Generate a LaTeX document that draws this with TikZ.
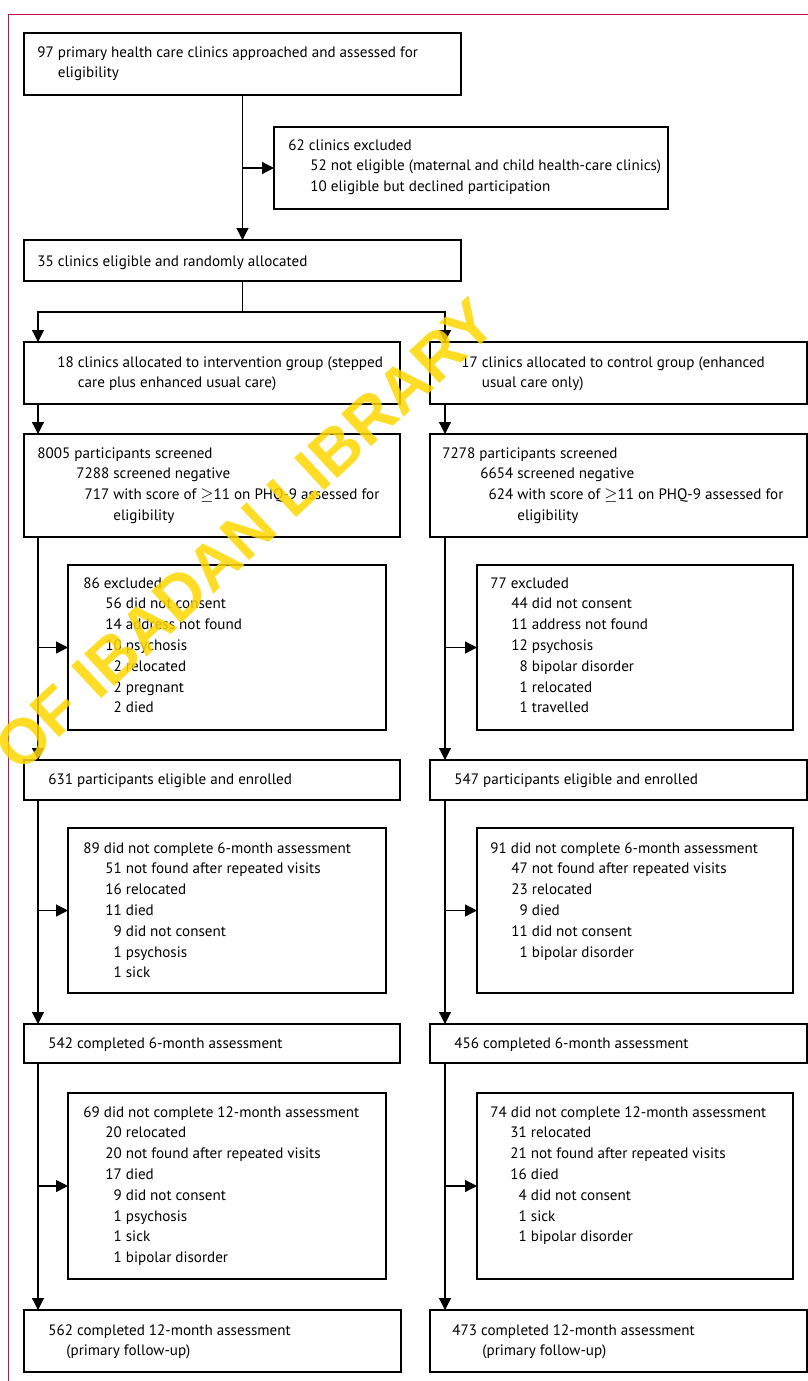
\documentclass[tikz,border=0pt]{standalone}
\usepackage{fontspec}
\setmainfont{PT Sans}
\newfontfamily\wmfont{Liberation Sans}
\usetikzlibrary{arrows, arrows.meta}
\usetikzlibrary{calc}

\definecolor{framered}{RGB}{200,16,70}
\definecolor{wmyellow}{RGB}{255,214,0}

\tikzset{
  box/.style={draw, line width=0.75pt, rectangle, inner sep=0pt, outer sep=0pt, anchor=north west},
  wh/.style 2 args={minimum width=#1*0.5pt, minimum height=#2*0.5pt},
  txt/.style={anchor=base west, inner sep=0pt, font=\fontsize{7.55}{10.4}\selectfont},
  arr/.style={-{Triangle[length=6pt, width=6pt]}, line width=0.6pt},
  link/.style={line width=0.6pt},
}

\begin{document}
\begin{tikzpicture}[x=0.5pt, y=-0.5pt]
      \useasboundingbox (0,0) rectangle (808,1381);
      \draw[framered, line width=0.6pt] (8.5,1381) -- (8.5,14.3) -- (808,14.3);

      % clinics
      \node[box, wh={437}{62}] (approach) at (24,33) {};
      \node[txt] (approachtxt) at ([shift={(13,24)}]approach.north west) {\begin{tabular}[t]{@{}r@{\ }l@{}}
        97 & primary health care clinics approached and assessed for\\
           & eligibility\end{tabular}};

      \node[box, wh={394}{82}] (clinexcl) at (274,127) {};
      \node[txt] (clinexcltxt) at ([shift={(14,23)}]clinexcl.north west) {\begin{tabular}[t]{@{}p{11pt}@{}r@{\ }l@{}}
        \multicolumn{3}{@{}l@{}}{62 clinics excluded}\\
        & 52 & not eligible (maternal and child health-care clinics)\\
        & 10 & eligible but declined participation\end{tabular}};

      \node[box, wh={437}{41}] (random) at (24,240) {};
      \node[txt] (randomtxt) at ([shift={(13,26)}]random.north west) {35 clinics eligible and randomly allocated};

      % groups
      \node[box, wh={376}{62}] (interv) at (24,342) {};
      \node[txt] (intervtxt) at ([shift={(33,25)}]interv.north west) {\begin{tabular}[t]{@{}r@{\ }l@{}}
        18 & clinics allocated to intervention group (stepped\\
           & care plus enhanced usual care)\end{tabular}};

      \node[box, wh={377}{62}] (control) at (430,342) {};
      \node[txt] (controltxt) at ([shift={(31,25)}]control.north west) {\begin{tabular}[t]{@{}r@{\ }l@{}}
        17 & clinics allocated to control group (enhanced\\
           & usual care only)\end{tabular}};

      % screening
      \node[box, wh={376}{103}] (screenA) at (24,434) {};
      \node[txt] (screenAtxt) at ([shift={(13,24)}]screenA.north west) {\begin{tabular}[t]{@{}p{19.5pt}@{}r@{\ }l@{}}
        \multicolumn{3}{@{}l@{}}{8005 participants screened}\\
        & 7288 & screened negative\\
        & 717 & with score of $\geq$11 on PHQ-9 assessed for\\
        & & eligibility\end{tabular}};

      \node[box, wh={377}{103}] (screenB) at (430,434) {};
      \node[txt] (screenBtxt) at ([shift={(12,24)}]screenB.north west) {\begin{tabular}[t]{@{}p{19pt}@{}r@{\ }l@{}}
        \multicolumn{3}{@{}l@{}}{7278 participants screened}\\
        & 6654 & screened negative\\
        & 624 & with score of $\geq$11 on PHQ-9 assessed for\\
        & & eligibility\end{tabular}};

      \node[box, wh={318}{165}] (exclA) at (68,565) {};
      \node[txt] (exclAtxt) at ([shift={(15,23)}]exclA.north west) {\begin{tabular}[t]{@{}p{11pt}@{}r@{\ }l@{}}
        \multicolumn{3}{@{}l@{}}{86 excluded}\\
        & 56 & did not consent\\
        & 14 & address not found\\
        & 10 & psychosis\\
        & 2 & relocated\\
        & 2 & pregnant\\
        & 2 & died\end{tabular}};

      \node[box, wh={316}{165}] (exclB) at (477,565) {};
      \node[txt] (exclBtxt) at ([shift={(13,23)}]exclB.north west) {\begin{tabular}[t]{@{}p{10.5pt}@{}r@{\ }l@{}}
        \multicolumn{3}{@{}l@{}}{77 excluded}\\
        & 44 & did not consent\\
        & 11 & address not found\\
        & 12 & psychosis\\
        & 8 & bipolar disorder\\
        & 1 & relocated\\
        & 1 & travelled\end{tabular}};

      % enrolment
      \node[box, wh={376}{40}] (enrolA) at (24,760) {};
      \node[txt] (enrolAtxt) at ([shift={(24,24)}]enrolA.north west) {631 participants eligible and enrolled};

      \node[box, wh={377}{40}] (enrolB) at (430,760) {};
      \node[txt] (enrolBtxt) at ([shift={(24,24)}]enrolB.north west) {547 participants eligible and enrolled};

      % 6 months
      \node[box, wh={318}{165}] (lostA6) at (68,828) {};
      \node[txt] (lostA6txt) at ([shift={(15,25)}]lostA6.north west) {\begin{tabular}[t]{@{}p{11pt}@{}r@{\ }l@{}}
        \multicolumn{3}{@{}l@{}}{89 did not complete 6-month assessment}\\
        & 51 & not found after repeated visits\\
        & 16 & relocated\\
        & 11 & died\\
        & 9 & did not consent\\
        & 1 & psychosis\\
        & 1 & sick\end{tabular}};

      \node[box, wh={316}{165}] (lostB6) at (477,828) {};
      \node[txt] (lostB6txt) at ([shift={(13,25)}]lostB6.north west) {\begin{tabular}[t]{@{}p{10.5pt}@{}r@{\ }l@{}}
        \multicolumn{3}{@{}l@{}}{91 did not complete 6-month assessment}\\
        & 47 & not found after repeated visits\\
        & 23 & relocated\\
        & 9 & died\\
        & 11 & did not consent\\
        & 1 & bipolar disorder\end{tabular}};

      \node[box, wh={376}{39}] (compA6) at (24,1024) {};
      \node[txt] (compA6txt) at ([shift={(24,24)}]compA6.north west) {542 completed 6-month assessment};

      \node[box, wh={377}{39}] (compB6) at (430,1024) {};
      \node[txt] (compB6txt) at ([shift={(24,24)}]compB6.north west) {456 completed 6-month assessment};

      % 12 months
      \node[box, wh={318}{186}] (lostA12) at (68,1093) {};
      \node[txt] (lostA12txt) at ([shift={(15,24)}]lostA12.north west) {\begin{tabular}[t]{@{}p{11pt}@{}r@{\ }l@{}}
        \multicolumn{3}{@{}l@{}}{69 did not complete 12-month assessment}\\
        & 20 & relocated\\
        & 20 & not found after repeated visits\\
        & 17 & died\\
        & 9 & did not consent\\
        & 1 & psychosis\\
        & 1 & sick\\
        & 1 & bipolar disorder\end{tabular}};

      \node[box, wh={316}{186}] (lostB12) at (477,1093) {};
      \node[txt] (lostB12txt) at ([shift={(13,24)}]lostB12.north west) {\begin{tabular}[t]{@{}p{10pt}@{}r@{\ }l@{}}
        \multicolumn{3}{@{}l@{}}{74 did not complete 12-month assessment}\\
        & 31 & relocated\\
        & 21 & not found after repeated visits\\
        & 16 & died\\
        & 4 & did not consent\\
        & 1 & sick\\
        & 1 & bipolar disorder\end{tabular}};

      \node[box, wh={377}{62}] (compA12) at (24,1310) {};
      \node[txt] (compA12txt) at ([shift={(24,25)}]compA12.north west) {\begin{tabular}[t]{@{}l@{}}
        562 completed 12-month assessment\\
        \hspace*{9pt}(primary follow-up)\end{tabular}};

      \node[box, wh={377}{62}] (compB12) at (430,1310) {};
      \node[txt] (compB12txt) at ([shift={(22,25)}]compB12.north west) {\begin{tabular}[t]{@{}l@{}}
        473 completed 12-month assessment\\
        \hspace*{15pt}(primary follow-up)\end{tabular}};

      % connectors
      \coordinate (colL) at (38,0);
      \coordinate (colR) at (445,0);
      \coordinate (split) at ([yshift=-15.5pt]random.south);

      \draw[arr] (approach) -- (random);
      \draw[arr] (approach.south |- clinexcl.west) -- (clinexcl.west);
      \draw[link] (random.south) -- (split);
      \draw[arr] (split) -| (colL |- interv.north);
      \draw[arr] (split) -| (colR |- control.north);

      \draw[arr] (colL |- interv.south) -- (colL |- screenA.north);
      \draw[arr] (colL |- screenA.south) -- (colL |- enrolA.north);
      \draw[arr] (colL |- exclA.west) -- (exclA.west);
      \draw[arr] (colL |- enrolA.south) -- (colL |- compA6.north);
      \draw[arr] (colL |- lostA6.west) -- (lostA6.west);
      \draw[arr] (colL |- compA6.south) -- (colL |- compA12.north);
      \draw[arr] (colL |- lostA12.west) -- (lostA12.west);

      \draw[arr] (colR |- control.south) -- (colR |- screenB.north);
      \draw[arr] (colR |- screenB.south) -- (colR |- enrolB.north);
      \draw[arr] (colR |- exclB.west) -- (exclB.west);
      \draw[arr] (colR |- enrolB.south) -- (colR |- compB6.north);
      \draw[arr] (colR |- lostB6.west) -- (lostB6.west);
      \draw[arr] (colR |- compB6.south) -- (colR |- compB12.north);
      \draw[arr] (colR |- lostB12.west) -- (lostB12.west);

      % watermark
      \node[rotate=43, text=wmyellow, opacity=0.85, font=\wmfont\bfseries\fontsize{32}{32}\selectfont] (stamp) at (245,535) {OF IBADAN LIBRARY};
    \end{tikzpicture}
\end{document}
